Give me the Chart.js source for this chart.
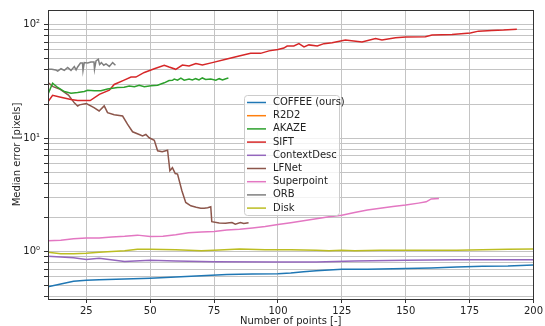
<!DOCTYPE html>
<html>
<head>
<meta charset="utf-8">
<script src="https://cdn.jsdelivr.net/npm/chart.js@4.4.0/dist/chart.umd.min.js"></script>
<style>
  body { margin: 0; background: #fff; }
  #wrap { width: 545px; height: 326px; }
</style>
</head>
<body>
<div id="wrap"><canvas id="chart" width="545" height="326"></canvas></div>
<script>
// axis ticks
const xTicks = [25, 50, 75, 100, 125, 150, 175, 200];
const yMajorTicks = [1, 10, 100];
const yTickLabels = ['10\u2070', '10\u00b9', '10\u00b2'];

// series (number of points -> median error)
const coffeeX = [10, 15, 20, 25, 30, 40, 50, 60, 70, 80, 90, 100, 105, 110, 115, 120, 125, 135, 150, 160, 170, 180, 190, 200];
const coffeeY = [0.49, 0.52, 0.55, 0.56, 0.565, 0.575, 0.585, 0.60, 0.615, 0.63, 0.635, 0.64, 0.65, 0.665, 0.68, 0.69, 0.70, 0.70, 0.71, 0.72, 0.735, 0.745, 0.75, 0.765];

const r2d2X = [];
const r2d2Y = [];

const akazeX = [10, 11.8, 13.8, 16.4, 19, 21.6, 24.2, 25.5, 28.1, 30.7, 33.3, 34.6, 37.2, 39.8, 41.8, 43.8, 45.7, 47.7, 50.3, 52.9, 55.5, 57.4, 58.7, 59.4, 60.7, 62, 63.3, 65.2, 66.5, 67.8, 69.1, 70.4, 71.7, 73.7, 75.7, 77, 78.3, 79.6, 80.6];
const akazeY = [24.5, 30.6, 28, 25.8, 24.9, 25.3, 25.8, 26.5, 26.2, 26.2, 27.2, 27.5, 28, 28.2, 28.8, 28.4, 29.3, 28.4, 29, 29.3, 30.8, 32.3, 32.4, 33.2, 32.5, 33.9, 32.5, 33.2, 32.6, 33.5, 32.7, 34, 33, 33.2, 32.5, 33.5, 32.7, 33.5, 34];

const siftX = [10, 11.8, 15, 19, 21.6, 26.5, 30.1, 34, 35.9, 39.8, 42.5, 44.4, 47.7, 51.6, 55.5, 57.4, 60, 62.6, 65.2, 67.9, 70.4, 74.3, 79.6, 84.8, 89.3, 93.2, 96.5, 100, 102.3, 103.6, 106.2, 108.2, 110.2, 112.1, 115.4, 118, 121.2, 126.4, 132.9, 138.2, 140.7, 146, 150, 157.7, 160.3, 168.1, 175.3, 178.5, 183.7, 188.3, 193.5];
const siftY = [21.0, 23.9, 23.0, 22.0, 21.5, 21.5, 24.4, 26.5, 29.8, 32.5, 34.6, 34.6, 38, 41, 44, 42.4, 40.5, 44.2, 43.3, 45.5, 44.3, 46.4, 49.7, 53, 56, 56, 58.9, 60.5, 62.4, 65, 65, 68.2, 63.8, 66.5, 65, 68.2, 69.6, 73.6, 70.6, 75.5, 73.6, 76.9, 77.9, 78.4, 81.1, 82.2, 84.5, 87.9, 89.2, 89.9, 91.4];

const contextX = [10, 20, 25, 30, 40, 50, 60, 75, 100, 115, 130, 150, 170, 200];
const contextY = [0.91, 0.885, 0.855, 0.875, 0.82, 0.84, 0.83, 0.815, 0.81, 0.81, 0.83, 0.84, 0.85, 0.85];

const lfnetX = [10, 12, 14.8, 18, 20.3, 21.6, 22.3, 25, 28, 30, 32, 33.3, 35.9, 39.2, 41.1, 43.1, 45.7, 47, 48.3, 49.6, 51.6, 52.9, 54.7, 56.8, 57.7, 58.7, 59.8, 60.7, 62.4, 63.9, 65.9, 68, 69.8, 71.1, 72.5, 73.7, 74.1, 77, 79.5, 81, 82, 83.3, 85.3, 86.6, 88.5];
const lfnetY = [30.9, 28.5, 27, 24, 20.5, 19.2, 19.7, 20.2, 18.6, 17.4, 19.3, 16.8, 16.1, 15.7, 13.3, 11.4, 10.8, 10.5, 10.8, 10.1, 9.6, 7.75, 7.6, 7.85, 5.17, 5.5, 4.89, 4.83, 3.45, 2.72, 2.54, 2.47, 2.42, 2.42, 2.44, 2.49, 1.84, 1.79, 1.78, 1.80, 1.81, 1.75, 1.81, 1.77, 1.80];

const superX = [10, 15, 20, 25, 30, 35, 40, 45, 50, 55, 60, 65, 70, 75, 80, 85, 90, 95, 100, 105, 110, 115, 120, 125, 130, 135, 140, 145, 150, 155, 158, 160, 163];
const superY = [1.25, 1.26, 1.30, 1.32, 1.32, 1.35, 1.37, 1.40, 1.36, 1.37, 1.41, 1.47, 1.49, 1.51, 1.55, 1.58, 1.62, 1.67, 1.74, 1.80, 1.87, 1.95, 2.03, 2.10, 2.22, 2.33, 2.42, 2.50, 2.58, 2.68, 2.75, 2.92, 2.95];

const orbX = [10, 11.5, 13, 13.8, 15.1, 16.4, 17.7, 19, 20.3, 21, 21.6, 22.7, 23.5, 23.7, 24.2, 25.5, 26.8, 28, 28.2, 28.8, 29.7, 30.2, 30.9, 31.8, 32.7, 34, 35.3, 36.4];
const orbY = [40.5, 40.5, 40, 39, 41, 39.6, 42, 39.6, 42.8, 40, 42.5, 46, 46, 39.6, 46.5, 46, 47, 47, 40.5, 48, 49.7, 44.6, 46.4, 44, 45.3, 43, 46.4, 44];

const diskX = [10, 15, 20, 25, 30, 40, 45, 50, 60, 70, 75, 85, 95, 105, 115, 120, 125, 130, 140, 150, 170, 190, 200];
const diskY = [0.99, 0.96, 0.96, 0.97, 0.99, 1.02, 1.05, 1.05, 1.04, 1.02, 1.03, 1.055, 1.04, 1.04, 1.03, 1.02, 1.03, 1.02, 1.03, 1.03, 1.03, 1.05, 1.055];

const pts = (xs, ys) => xs.map((x, i) => ({ x: x, y: ys[i] }));

const font = { family: '"DejaVu Sans", sans-serif', size: 10 };
const textColor = '#222';
const gridColor = '#c4c4c4';

const line = (label, color, xs, ys) => ({
  label: label,
  data: pts(xs, ys),
  borderColor: color,
  backgroundColor: color,
  borderWidth: 1.5,
  pointRadius: 0,
  tension: 0,
  fill: false
});

// legend box drawn inside the plot, matplotlib style
const legendBox = {
  id: 'legendBox',
  afterDraw(chart) {
    const ctx = chart.ctx, a = chart.chartArea;
    const x = a.left + 196, y = a.top + 85, w = 95, h = 120, row = 13.2;
    ctx.save();
    ctx.fillStyle = 'rgba(255,255,255,0.8)';
    ctx.strokeStyle = '#cccccc';
    ctx.lineWidth = 1;
    ctx.beginPath();
    ctx.roundRect(x + 0.5, y + 0.5, w, h, 3);
    ctx.fill();
    ctx.stroke();
    ctx.font = '10px "DejaVu Sans"';
    ctx.textBaseline = 'middle';
    chart.data.datasets.forEach((ds, i) => {
      const cy = y + 7.5 + i * row;
      ctx.strokeStyle = ds.borderColor;
      ctx.lineWidth = 1.5;
      ctx.beginPath();
      ctx.moveTo(x + 3, cy);
      ctx.lineTo(x + 22, cy);
      ctx.stroke();
      ctx.fillStyle = textColor;
      ctx.fillText(ds.label, x + 29, cy);
    });
    ctx.restore();
  }
};

// full box around the plot
const spines = {
  id: 'spines',
  afterDatasetsDraw(chart) {
    const ctx = chart.ctx, a = chart.chartArea;
    ctx.save();
    ctx.strokeStyle = '#333';
    ctx.lineWidth = 1;
    ctx.strokeRect(Math.round(a.left) + 0.5, Math.round(a.top) + 0.5,
      Math.round(a.right - a.left), Math.round(a.bottom - a.top));
    ctx.restore();
  }
};

new Chart(document.getElementById('chart'), {
  type: 'line',
  data: {
    datasets: [
      line('COFFEE (ours)', '#1f77b4', coffeeX, coffeeY),
      line('R2D2', '#ff7f0e', r2d2X, r2d2Y),
      line('AKAZE', '#2ca02c', akazeX, akazeY),
      line('SIFT', '#d62728', siftX, siftY),
      line('ContextDesc', '#9467bd', contextX, contextY),
      line('LFNet', '#8c564b', lfnetX, lfnetY),
      line('Superpoint', '#e377c2', superX, superY),
      line('ORB', '#7f7f7f', orbX, orbY),
      line('Disk', '#bcbd22', diskX, diskY)
    ]
  },
  options: {
    responsive: false,
    animation: false,
    layout: { padding: { top: 9, right: 10, left: 0, bottom: 0 } },
    plugins: {
      legend: { display: false },
      tooltip: { enabled: false }
    },
    scales: {
      x: {
        type: 'linear',
        min: 10,
        max: 200,
        afterBuildTicks(scale) { scale.ticks = xTicks.map(v => ({ value: v })); },
        afterFit(scale) { scale.height = 27; },
        ticks: { autoSkip: false, maxRotation: 0, padding: 2, font: font, color: textColor },
        grid: { color: gridColor, tickLength: 4, tickColor: '#333' },
        border: { display: false },
        title: { display: true, text: 'Number of points [-]', color: textColor,
          font: { family: font.family, size: 10, lineHeight: 1 }, padding: 0 }
      },
      y: {
        type: 'logarithmic',
        min: 0.383,
        max: 135,
        afterBuildTicks(scale) {
          const t = [];
          for (let e = -1; e <= 2; e++) {
            for (let m = 1; m < 10; m++) {
              const v = m * Math.pow(10, e);
              if (v >= scale.min && v <= scale.max) t.push({ value: v });
            }
          }
          scale.ticks = t;
        },
        afterFit(scale) { scale.width = 48; },
        ticks: {
          autoSkip: false,
          padding: 4,
          font: font,
          color: textColor,
          callback: (v) => {
            const i = yMajorTicks.indexOf(v);
            return i >= 0 ? yTickLabels[i] : '';
          }
        },
        grid: { color: gridColor, tickLength: 4, tickColor: '#333' },
        border: { display: false },
        title: { display: true, text: 'Median error [pixels]', color: textColor,
          font: font, padding: { top: 11, bottom: 0 } }
      }
    }
  },
  plugins: [spines, legendBox]
});
</script>
</body>
</html>
